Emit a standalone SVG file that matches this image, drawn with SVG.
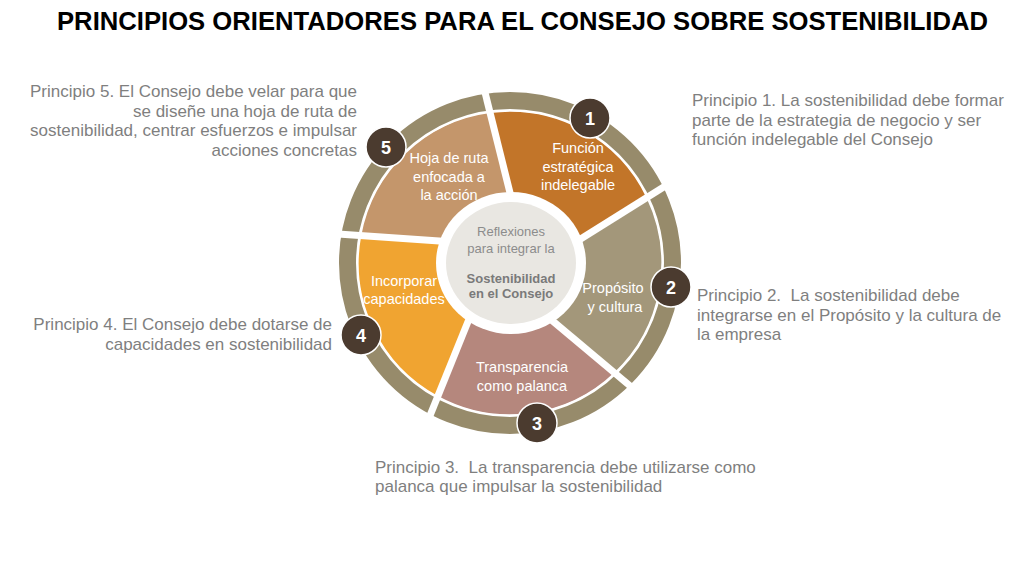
<svg xmlns="http://www.w3.org/2000/svg" width="1024" height="575" viewBox="0 0 1024 575">
<style>
.title{font-family:"Liberation Sans",Arial,sans-serif;font-weight:bold;font-size:25px;fill:#000}
.pr{font-family:"Liberation Sans",Arial,sans-serif;font-size:17px;fill:#7F7F7F}
.seg{stroke:#fff;stroke-width:1.5}
.lbl{font-family:"Liberation Sans",Arial,sans-serif;font-size:14.5px;fill:#fff;text-anchor:middle}
.ctr{font-family:"Liberation Sans",Arial,sans-serif;font-size:13px;fill:#8C8C8C;text-anchor:middle}
.ctrb{font-family:"Liberation Sans",Arial,sans-serif;font-size:13px;font-weight:bold;fill:#7A7A7A;text-anchor:middle}
.num{fill:#4B3B2F;stroke:#fff;stroke-width:1.5}
.numt{font-family:"Liberation Sans",Arial,sans-serif;font-size:18px;font-weight:bold;fill:#fff;text-anchor:middle}
.gap{stroke:#fff;stroke-width:7;stroke-linecap:butt}
</style>
<rect width="1024" height="575" fill="#fff"/>
<text class="title" x="57" y="30" textLength="931" lengthAdjust="spacingAndGlyphs">PRINCIPIOS ORIENTADORES PARA EL CONSEJO SOBRE SOSTENIBILIDAD</text>

<g id="ring">
<circle cx="510" cy="263" r="162.5" fill="none" stroke="#978B6B" stroke-width="17"/>
</g>

<g id="seg1"><path class="seg" fill="#C27529" d="M489.96,112.32 A152,152 0 0 1 647.11,197.38 L567.80,246.93 A60,60 0 0 0 512.58,203.07 Z"/></g>
<g id="seg2"><path class="seg" fill="#A3977A" d="M647.11,197.38 A152,152 0 0 1 614.78,373.11 L543.14,313.00 A60,60 0 0 0 567.80,246.93 Z"/></g>
<g id="seg3"><path class="seg" fill="#B5877D" d="M614.78,373.11 A152,152 0 0 1 437.65,396.68 L472.69,309.97 A60,60 0 0 0 543.14,313.00 Z"/></g>
<g id="seg4"><path class="seg" fill="#F0A431" d="M437.65,396.68 A152,152 0 0 1 360.51,235.50 L453.80,242.03 A60,60 0 0 0 472.69,309.97 Z"/></g>
<g id="seg5"><path class="seg" fill="#C4966B" d="M360.51,235.50 A152,152 0 0 1 489.96,112.32 L512.58,203.07 A60,60 0 0 0 453.80,242.03 Z"/></g>

<g id="connectors">
<line class="gap" x1="512.58" y1="203.07" x2="483.63" y2="86.96"/>
<line class="gap" x1="567.80" y1="246.93" x2="669.28" y2="183.52"/>
<line class="gap" x1="543.14" y1="313.00" x2="634.80" y2="389.92"/>
<line class="gap" x1="472.69" y1="309.97" x2="427.86" y2="420.92"/>
<line class="gap" x1="453.80" y1="242.03" x2="334.43" y2="233.68"/>
</g>

<g id="center">
<ellipse cx="511" cy="263" rx="75" ry="71" fill="#fff"/>
<ellipse cx="511" cy="263" rx="65" ry="61" fill="#E9E7E2"/>
<text class="ctr" x="511" y="236">Reflexiones</text>
<text class="ctr" x="511" y="253">para integrar la</text>
<text class="ctrb" x="511" y="283">Sostenibilidad</text>
<text class="ctrb" x="511" y="297.5">en el Consejo</text>
</g>

<g id="labels">
<text class="lbl" x="578" y="153">Función</text>
<text class="lbl" x="578" y="172">estratégica</text>
<text class="lbl" x="578" y="190">indelegable</text>
<text class="lbl" x="613" y="293">Propósito</text>
<text class="lbl" x="615" y="311.5">y cultura</text>
<text class="lbl" x="522" y="372">Transparencia</text>
<text class="lbl" x="522" y="391">como palanca</text>
<text class="lbl" x="404" y="285.5">Incorporar</text>
<text class="lbl" x="404" y="304">capacidades</text>
<text class="lbl" x="449" y="163">Hoja de ruta</text>
<text class="lbl" x="449" y="182">enfocada a</text>
<text class="lbl" x="449" y="200">la acción</text>
</g>

<g id="n1"><circle class="num" cx="590" cy="118" r="20"/><text class="numt" x="590" y="124.5">1</text></g>
<g id="n2"><circle class="num" cx="671" cy="287" r="20"/><text class="numt" x="671" y="293.5">2</text></g>
<g id="n3"><circle class="num" cx="537" cy="423" r="20"/><text class="numt" x="537" y="429.5">3</text></g>
<g id="n4"><circle class="num" cx="361" cy="335" r="20"/><text class="numt" x="361" y="341.5">4</text></g>
<g id="n5"><circle class="num" cx="386" cy="147" r="20"/><text class="numt" x="386" y="153.5">5</text></g>

<g id="p1">
<text class="pr" x="692" y="106">Principio 1. La sostenibilidad debe formar</text>
<text class="pr" x="692" y="125.5">parte de la estrategia de negocio y ser</text>
<text class="pr" x="692" y="145">función indelegable del Consejo</text>
</g>
<g id="p2">
<text class="pr" x="697" y="301" xml:space="preserve">Principio 2.  La sostenibilidad debe</text>
<text class="pr" x="697" y="320.5">integrarse en el Propósito y la cultura de</text>
<text class="pr" x="697" y="340">la empresa</text>
</g>
<g id="p3">
<text class="pr" x="375" y="473" xml:space="preserve">Principio 3.  La transparencia debe utilizarse como</text>
<text class="pr" x="375" y="492">palanca que impulsar la sostenibilidad</text>
</g>
<g id="p4" text-anchor="end">
<text class="pr" x="332" y="330">Principio 4. El Consejo debe dotarse de</text>
<text class="pr" x="332" y="349.5">capacidades en sostenibilidad</text>
</g>
<g id="p5" text-anchor="end">
<text class="pr" x="357" y="97">Principio 5. El Consejo debe velar para que</text>
<text class="pr" x="357" y="116.5">se diseñe una hoja de ruta de</text>
<text class="pr" x="357" y="136">sostenibilidad, centrar esfuerzos e impulsar</text>
<text class="pr" x="357" y="155.5">acciones concretas</text>
</g>
</svg>
